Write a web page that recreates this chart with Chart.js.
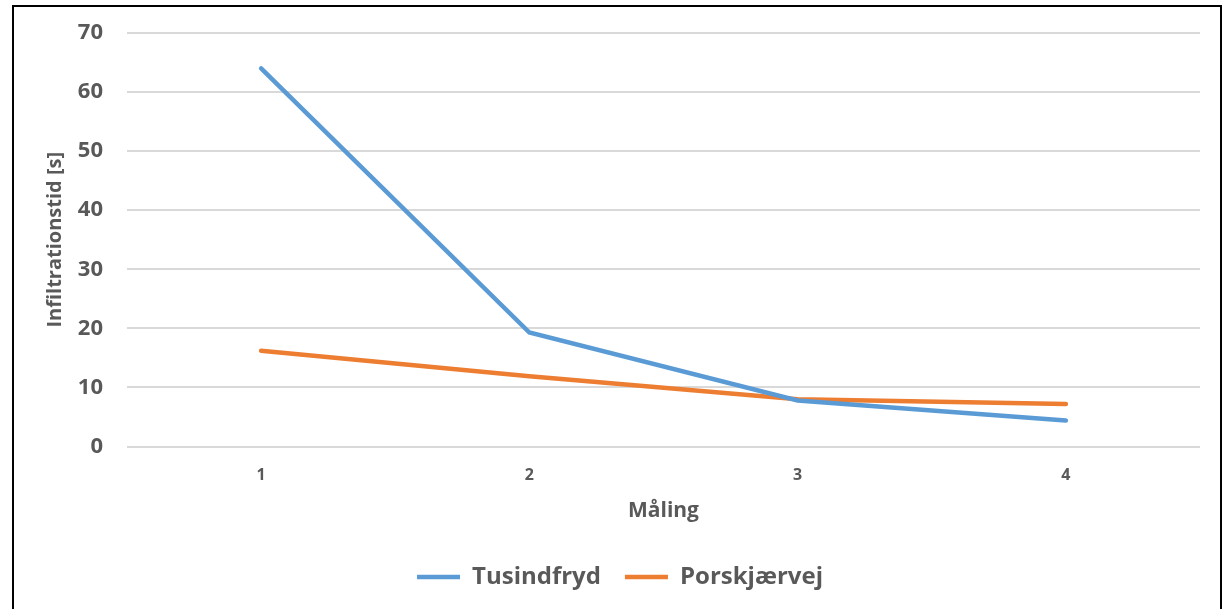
<!DOCTYPE html>
<html>
<head>
<meta charset="utf-8">
<script src="https://cdn.jsdelivr.net/npm/chart.js@4"></script>
<style>
  body { margin: 0; background: #fff; }
  #frame {
    position: absolute; left: 12px; top: 5px;
    width: 1206px; height: 640px;
    border: 2px solid #000;
  }
  #myChart { position: absolute; left: 0; top: 0; }
</style>
</head>
<body>
<div id="frame"></div>
<canvas id="myChart" width="1222" height="609"></canvas>
<script>
const malinger = ['1', '2', '3', '4'];
const tusindfryd = [64, 19.3, 7.8, 4.4];
const porskjaervej = [16.2, 11.9, 8.0, 7.2];
const yTicks = [0, 10, 20, 30, 40, 50, 60, 70];

const textColor = '#595959';
const fontName = '"Open Sans", Lato, sans-serif';

const ctx = document.getElementById('myChart').getContext('2d');
const myChart = new Chart(ctx, {
    type: 'line',
    data: {
        labels: malinger,
        datasets: [{
            label: 'Tusindfryd',
            data: tusindfryd,
            borderColor: '#5B9BD5',
            backgroundColor: '#5B9BD5',
            borderWidth: 4.5,
            borderCapStyle: 'round',
            pointRadius: 0,
            tension: 0
        },
        {
            label: 'Porskjærvej',
            data: porskjaervej,
            borderColor: '#ED7D31',
            backgroundColor: '#ED7D31',
            borderWidth: 4.5,
            borderCapStyle: 'round',
            pointRadius: 0,
            tension: 0
        }]
    },
    options: {
        responsive: false,
        animation: false,
        layout: {
            autoPadding: false,
            padding: { left: 40, right: 22, top: 33, bottom: 10 }
        },
        scales: {
            y: {
                min: yTicks[0],
                max: yTicks[yTicks.length - 1],
                afterBuildTicks: function(scale) {
                    scale.ticks = yTicks.map(v => ({ value: v }));
                },
                afterFit: function(scale) {
                    scale.width = 87;
                    scale.paddingTop = 0;
                    scale.paddingBottom = 0;
                },
                grid: {
                    color: '#d9d9d9',
                    lineWidth: 2,
                    drawTicks: false
                },
                border: { display: false },
                ticks: {
                    padding: 24,
                    color: textColor,
                    font: { family: fontName, size: 22, weight: 'bold' }
                },
                title: {
                    display: true,
                    text: 'Infiltrationstid [s]',
                    color: textColor,
                    padding: 3,
                    font: { family: fontName, size: 20, weight: 'bold' }
                }
            },
            x: {
                offset: true,
                afterFit: function(scale) {
                    scale.height = 94.5;
                },
                grid: { display: false, drawTicks: false },
                border: { display: false },
                ticks: {
                    padding: 19,
                    color: textColor,
                    font: { family: fontName, size: 16, weight: 'bold' }
                },
                title: {
                    display: true,
                    text: 'Måling',
                    color: textColor,
                    padding: { top: 0, bottom: 17 },
                    font: { family: fontName, size: 21, weight: 'bold' }
                }
            }
        },
        plugins: {
            legend: {
                position: 'bottom',
                labels: {
                    usePointStyle: true,
                    pointStyle: 'line',
                    pointStyleWidth: 43,
                    padding: 24,
                    color: textColor,
                    font: { family: fontName, size: 24, weight: 'bold' }
                }
            },
            tooltip: { enabled: false }
        }
    }
});
</script>
</body>
</html>
